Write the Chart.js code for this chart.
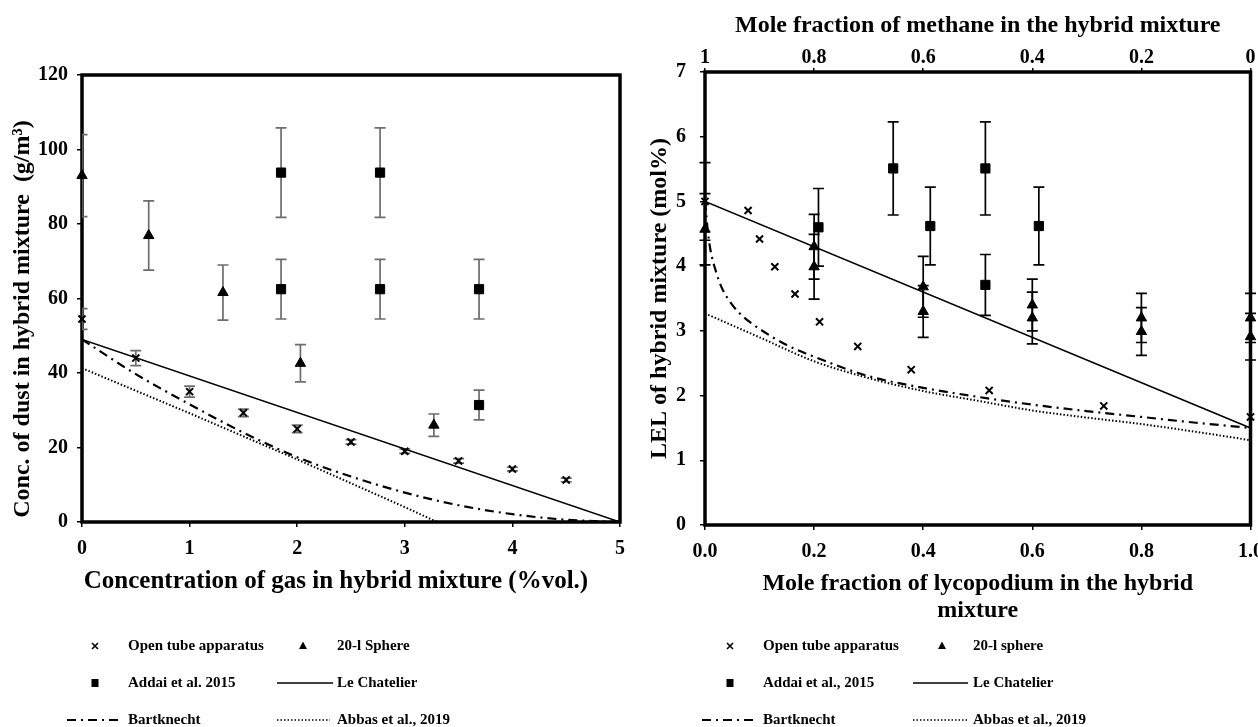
<!DOCTYPE html>
<html><head><meta charset="utf-8">
<script src="https://cdn.jsdelivr.net/npm/chart.js@4.4.1/dist/chart.umd.min.js"></script>
<style>
html,body{margin:0;padding:0;background:#fff;}
#wrap{position:relative;width:1258px;height:727px;overflow:hidden;background:#fff;}
#c1{position:absolute;left:0;top:0;width:630px;height:727px;}
#c2{position:absolute;left:630px;top:0;width:628px;height:727px;}
</style></head><body>
<div id="wrap"><canvas id="c1" width="630" height="727"></canvas><canvas id="c2" width="628" height="727"></canvas></div>
<script>
// ---------- LEFT CHART DATA ----------
const openX_L = [0, 0.5, 1, 1.5, 2, 2.5, 3, 3.5, 4, 4.5];
const openY_L = [54.5, 44, 35, 29.3, 25, 21.5, 19, 16.4, 14.2, 11.3];
const openE_L = [2.8, 2, 1.5, 1, 1, 0.6, 0.6, 0.6, 0.5, 0.5];
const sphX_L = [0, 0.62, 1.31, 2.03, 3.27];
const sphY_L = [93, 76.9, 61.6, 42.6, 26];
const sphE_L = [11, 9.3, 7.4, 5, 3];
const addX_L = [1.85, 1.85, 2.77, 2.77, 3.69, 3.69];
const addY_L = [93.8, 62.5, 93.8, 62.5, 62.5, 31.4];
const addE_L = [12, 8, 12, 8, 8, 4];
const lcX_L = [0, 5];
const lcY_L = [49, 0];
const bkX_L = [0, 0.5, 1, 1.5, 2, 2.5, 3, 3.5, 4, 4.5, 5];
const bkY_L = [49, 39.7, 31.6, 24, 17.4, 12.2, 7.9, 4.5, 2.1, 0.6, 0];
const abX_L = [0, 1, 2, 3, 3.3];
const abY_L = [41.3, 29.2, 16.8, 4, 0];
const yTicksL = [0, 20, 40, 60, 80, 100, 120];
const xTicksL = [0, 1, 2, 3, 4, 5];

// ---------- RIGHT CHART DATA ----------
const openX_R = [0, 0.079, 0.1, 0.128, 0.165, 0.21, 0.28, 0.378, 0.521, 0.731, 1.0];
const openY_R = [5.0, 4.86, 4.42, 3.99, 3.57, 3.14, 2.76, 2.4, 2.08, 1.84, 1.67];
const openE_R = [0.6, 0, 0, 0, 0, 0, 0, 0, 0, 0, 0];
const sphX_R = [0, 0.2, 0.2, 0.4, 0.4, 0.6, 0.6, 0.8, 0.8, 1.0, 1.0];
const sphY_R = [4.57, 4.3, 3.99, 3.68, 3.3, 3.4, 3.2, 3.2, 2.99, 3.2, 2.91];
const sphE_R = [0.55, 0.5, 0.5, 0.47, 0.4, 0.4, 0.4, 0.38, 0.37, 0.38, 0.36];
const addX_R = [0.208, 0.345, 0.413, 0.514, 0.514, 0.612];
const addY_R = [4.6, 5.51, 4.62, 5.51, 3.71, 4.62];
const addE_R = [0.6, 0.72, 0.6, 0.72, 0.47, 0.6];
const lcX_R = [0, 1];
const lcY_R = [5.0, 1.5];
const bkX_R = [0, 0.005, 0.01, 0.02, 0.03, 0.05, 0.07, 0.1, 0.15, 0.2, 0.3, 0.4, 0.5, 0.6, 0.7, 0.8, 0.9, 1.0];
const bkY_R = [5.0, 4.55, 4.25, 3.92, 3.68, 3.4, 3.22, 3.03, 2.78, 2.6, 2.3, 2.12, 1.98, 1.86, 1.76, 1.67, 1.58, 1.5];
const abX_R = [0, 0.1, 0.2, 0.3, 0.4, 0.5, 0.6, 0.7, 0.8, 0.9, 1.0];
const abY_R = [3.27, 2.9, 2.53, 2.27, 2.07, 1.92, 1.77, 1.66, 1.56, 1.44, 1.31];
const yTicksR = [0, 1, 2, 3, 4, 5, 6, 7];
const xTicksR = [0, 0.2, 0.4, 0.6, 0.8, 1.0];
const topTicksR = [1, 0.8, 0.6, 0.4, 0.2, 0];

const FONT = "'Liberation Serif','Times New Roman',serif";
const pts = (xs, ys) => xs.map((x, i) => ({x: x, y: ys[i]}));

function markerSet(label, xs, ys, errs, style, radius, errColor, errClip) {
  return {label, data: pts(xs, ys), errs, errColor, errClip, showLine: false,
    pointStyle: style, pointRadius: radius, pointHoverRadius: radius,
    backgroundColor: '#000', borderColor: '#000', borderWidth: style === 'crossRot' ? 2 : 1, clip: false};
}
function lineSet(label, xs, ys, dash, width, smooth) {
  return {label, data: pts(xs, ys), showLine: true, pointRadius: 0, borderColor: '#000',
    borderWidth: width, borderDash: dash, borderCapStyle: 'butt', fill: false,
    cubicInterpolationMode: smooth ? 'monotone' : 'default', tension: 0};
}

const errPlugin = {
  id: 'errbars',
  beforeDatasetsDraw(chart) {
    const ctx = chart.ctx, ys = chart.scales.y, xs = chart.scales.x, a = chart.chartArea;
    chart.data.datasets.forEach(ds => {
      if (!ds.errs) return;
      ctx.save();
      if (ds.errClip) { ctx.beginPath(); ctx.rect(a.left, a.top - 20, a.right - a.left, a.bottom - a.top + 40); ctx.clip(); }
      ctx.strokeStyle = ds.errColor; ctx.lineWidth = 1.7;
      ds.data.forEach((p, j) => {
        const e = ds.errs[j]; if (!e) return;
        const px = xs.getPixelForValue(p.x);
        const y1 = ys.getPixelForValue(p.y + e), y2 = ys.getPixelForValue(p.y - e);
        ctx.beginPath();
        ctx.moveTo(px, y1); ctx.lineTo(px, y2);
        ctx.moveTo(px - 5.5, y1); ctx.lineTo(px + 5.5, y1);
        ctx.moveTo(px - 5.5, y2); ctx.lineTo(px + 5.5, y2);
        ctx.stroke();
      });
      ctx.restore();
    });
  }
};
const boxPlugin = {
  id: 'box',
  beforeDatasetsDraw(chart) {
    const ctx = chart.ctx, a = chart.chartArea;
    ctx.save(); ctx.strokeStyle = '#000'; ctx.lineWidth = 3.5;
    ctx.strokeRect(a.left, a.top, a.right - a.left, a.bottom - a.top);
    ctx.restore();
  }
};
function drawMarker(ctx, type, x, y) {
  ctx.save(); ctx.fillStyle = '#000'; ctx.strokeStyle = '#000';
  if (type === 'x') {
    ctx.lineWidth = 1.6; const s = 3;
    ctx.beginPath(); ctx.moveTo(x - s, y - s); ctx.lineTo(x + s, y + s); ctx.moveTo(x + s, y - s); ctx.lineTo(x - s, y + s); ctx.stroke();
  } else if (type === 'tri') {
    ctx.beginPath(); ctx.moveTo(x, y - 4.5); ctx.lineTo(x + 4, y + 3); ctx.lineTo(x - 4, y + 3); ctx.closePath(); ctx.fill();
  } else if (type === 'sq') {
    ctx.fillRect(x - 3.5, y - 4, 7, 8);
  }
  ctx.restore();
}
function drawSample(ctx, type, x0, x1, y) {
  ctx.save(); ctx.strokeStyle = '#000'; ctx.lineCap = 'butt';
  if (type === 'solid') { ctx.lineWidth = 1.6; ctx.setLineDash([]); }
  else if (type === 'dashdot') { ctx.lineWidth = 2.2; ctx.setLineDash([9, 5, 2, 5]); }
  else { ctx.lineWidth = 1.5; ctx.setLineDash([1.5, 2]); }
  ctx.beginPath(); ctx.moveTo(x0, y); ctx.lineTo(x1, y); ctx.stroke();
  ctx.restore();
}
const legendPlugin = {
  id: 'mylegend',
  afterDraw(chart, args, opts) {
    const ctx = chart.ctx;
    ctx.save();
    ctx.font = 'bold 15px ' + FONT; ctx.fillStyle = '#000'; ctx.textBaseline = 'middle'; ctx.textAlign = 'left';
    (opts.items || []).forEach(it => {
      if (it.m) drawMarker(ctx, it.m, it.mx, it.y);
      if (it.l) drawSample(ctx, it.l, it.x0, it.x1, it.y);
      ctx.fillText(it.text, it.tx, it.y);
    });
    (opts.titles || []).forEach(t => {
      ctx.save();
      ctx.font = 'bold ' + t.size + 'px ' + FONT; ctx.textAlign = 'center'; ctx.textBaseline = 'middle';
      ctx.translate(t.x, t.y); if (t.rot) ctx.rotate(t.rot);
      ctx.fillText(t.text, 0, 0);
      ctx.restore();
    });
    ctx.restore();
  }
};

const tickFont = {family: FONT, size: 20, weight: 'bold'};
const titleFont = {family: FONT, size: 24, weight: 'bold'};
const fix = (w, h) => s => { if (w != null) s.width = w; if (h != null) s.height = h; s.paddingLeft = 0; s.paddingRight = 0; s.paddingTop = 0; s.paddingBottom = 0; };
const gridOpts = {drawOnChartArea: false, tickLength: 5, color: '#000', lineWidth: 1.5};

// ---------- LEFT CHART ----------
new Chart(document.getElementById('c1'), {
  type: 'scatter',
  data: {datasets: [
    lineSet('Le Chatelier', lcX_L, lcY_L, [], 1.6, false),
    lineSet('Bartknecht', bkX_L, bkY_L, [9, 5, 2, 5], 2.2, true),
    lineSet('Abbas et al., 2019', abX_L, abY_L, [1.5, 2], 2, false),
    markerSet('Open tube apparatus', openX_L, openY_L, openE_L, 'crossRot', 5, '#6d6d6d', true),
    markerSet('20-l Sphere', sphX_L, sphY_L, sphE_L, 'triangle', 6, '#6d6d6d', true),
    markerSet('Addai et al. 2015', addX_L, addY_L, addE_L, 'rect', 6.5, '#6d6d6d', true)
  ]},
  options: {
    responsive: false, animation: false, devicePixelRatio: 1,
    layout: {padding: {left: 0, right: 10, top: 75, bottom: 120}},
    plugins: {legend: {display: false}, tooltip: {enabled: false},
      mylegend: {items: [
        {m: 'x', mx: 95, tx: 128, y: 646, text: 'Open tube apparatus'},
        {m: 'tri', mx: 303, tx: 337, y: 646, text: '20-l Sphere'},
        {m: 'sq', mx: 95, tx: 128, y: 683, text: 'Addai et al. 2015'},
        {l: 'solid', x0: 277, x1: 333, tx: 337, y: 683, text: 'Le Chatelier'},
        {l: 'dashdot', x0: 67, x1: 122, tx: 128, y: 720, text: 'Bartknecht'},
        {l: 'dot', x0: 277, x1: 330, tx: 337, y: 720, text: 'Abbas et al., 2019'}
      ], titles: [
        {text: 'Concentration of gas in hybrid mixture (%vol.)', x: 336, y: 582, size: 25},
        {text: 'Conc. of dust in hybrid mixture  (g/m³)', x: 23, y: 319, size: 24, rot: -Math.PI / 2}
      ]}},
    scales: {
      x: {type: 'linear', position: 'bottom', min: 0, max: 5, afterFit: fix(null, 85),
        afterBuildTicks: s => { s.ticks = xTicksL.map(v => ({value: v})); },
        ticks: {font: tickFont, color: '#000', padding: 10, maxRotation: 0, callback: v => String(v)},
        grid: gridOpts, border: {display: false},
        title: {display: false}},
      y: {type: 'linear', min: 0, max: 120, afterFit: fix(82, null),
        afterBuildTicks: s => { s.ticks = yTicksL.map(v => ({value: v})); },
        ticks: {font: tickFont, color: '#000', padding: 9, callback: v => String(v)},
        grid: gridOpts, border: {display: false},
        title: {display: false}}
    }
  },
  plugins: [boxPlugin, errPlugin, legendPlugin]
});

// ---------- RIGHT CHART ----------
new Chart(document.getElementById('c2'), {
  type: 'scatter',
  data: {datasets: [
    lineSet('Le Chatelier', lcX_R, lcY_R, [], 1.6, false),
    lineSet('Bartknecht', bkX_R, bkY_R, [9, 5, 2, 5], 2.2, true),
    lineSet('Abbas et al., 2019', abX_R, abY_R, [1.5, 2], 2, true),
    markerSet('Open tube apparatus', openX_R, openY_R, openE_R, 'crossRot', 5, '#000', false),
    markerSet('20-l sphere', sphX_R, sphY_R, sphE_R, 'triangle', 6, '#000', false),
    markerSet('Addai et al., 2015', addX_R, addY_R, addE_R, 'rect', 6.5, '#000', false)
  ]},
  options: {
    responsive: false, animation: false, devicePixelRatio: 1,
    layout: {padding: {left: 0, right: 6, top: 0, bottom: 102}},
    plugins: {legend: {display: false}, tooltip: {enabled: false},
      mylegend: {items: [
        {m: 'x', mx: 100, tx: 133, y: 646, text: 'Open tube apparatus'},
        {m: 'tri', mx: 312, tx: 343, y: 646, text: '20-l sphere'},
        {m: 'sq', mx: 100, tx: 133, y: 683, text: 'Addai et al., 2015'},
        {l: 'solid', x0: 283, x1: 338, tx: 343, y: 683, text: 'Le Chatelier'},
        {l: 'dashdot', x0: 72, x1: 128, tx: 133, y: 720, text: 'Bartknecht'},
        {l: 'dot', x0: 283, x1: 338, tx: 343, y: 720, text: 'Abbas et al., 2019'}
      ]}},
    scales: {
      x: {type: 'linear', position: 'bottom', min: 0, max: 1, afterFit: fix(null, 100),
        afterBuildTicks: s => { s.ticks = xTicksR.map(v => ({value: v})); },
        ticks: {font: tickFont, color: '#000', padding: 10, maxRotation: 0, callback: v => v.toFixed(1)},
        grid: gridOpts, border: {display: false},
        title: {display: true, text: ['Mole fraction of lycopodium in the hybrid', 'mixture'], font: {family: FONT, size: 24, weight: 'bold', lineHeight: 1.125}, color: '#000', padding: {top: 0, bottom: 0.5}}},
      x2: {type: 'linear', position: 'top', min: 0, max: 1, reverse: true, afterFit: fix(null, 72),
        afterBuildTicks: s => { s.ticks = topTicksR.map(v => ({value: v})); },
        ticks: {font: tickFont, color: '#000', padding: -2, maxRotation: 0, callback: v => (v === 0 || v === 1) ? String(v) : v.toFixed(1)},
        grid: {drawOnChartArea: false, tickLength: 4, color: '#000', lineWidth: 1.5}, border: {display: false},
        title: {display: true, text: 'Mole fraction of methane in the hybrid mixture', font: titleFont, color: '#000', padding: {top: 11.5, bottom: 0}}},
      y: {type: 'linear', min: 0, max: 7, afterFit: fix(75, null),
        afterBuildTicks: s => { s.ticks = yTicksR.map(v => ({value: v})); },
        ticks: {font: tickFont, color: '#000', padding: 14, callback: v => String(v)},
        grid: gridOpts, border: {display: false},
        title: {display: true, text: 'LEL of hybrid mixture (mol%)', font: titleFont, color: '#000', padding: {top: 15.6, bottom: 0}}}
    }
  },
  plugins: [boxPlugin, errPlugin, legendPlugin]
});
</script>
</body></html>
